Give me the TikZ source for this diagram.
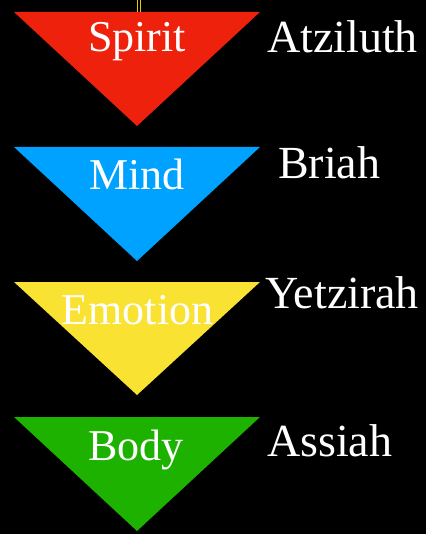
\documentclass[tikz,border=0pt]{standalone}
\usepackage{fontspec}
\setmainfont{Liberation Serif}
\definecolor{cred}{HTML}{EE220C}
\definecolor{cblue}{HTML}{00A2FF}
\definecolor{cyellow}{HTML}{FAE232}
\definecolor{cgreen}{HTML}{1DB100}
\definecolor{cline}{HTML}{E8D000}
\begin{document}
\begin{tikzpicture}[x=1pt,y=-1pt,
  lbl/.style={text=white,font=\fontsize{44}{50}\selectfont,inner sep=0pt,anchor=base},
  side/.style={text=white,font=\fontsize{46}{52}\selectfont,inner sep=0pt,anchor=base west}]
\fill[black] (0,0) rectangle (426,534);
\useasboundingbox (0,0) rectangle (426,534);
% yellow double line at top
\draw[cline,line width=1.2pt] (137.2,0) -- (137.2,12);
\draw[cline,line width=1.2pt] (140.2,0) -- (140.2,12);
% triangles
\fill[cred] (14,12) -- (260,12) -- (137,126) -- cycle;
\fill[cblue] (14,147) -- (260,147) -- (137,261) -- cycle;
\fill[cyellow] (14,282) -- (260,282) -- (137,395) -- cycle;
\fill[cgreen] (14,417) -- (260,417) -- (137,531) -- cycle;
% inner labels
\node[lbl] (spirit) at (137,52) {Spirit};
\node[lbl] (mind) at (137,190) {Mind};
\node[lbl] (emotion) at (137.5,324) {Emotion};
\node[lbl] (body) at (136,460) {Body};
% side labels
\node[side] (atz) at (267,53) {Atziluth};
\node[side] (bri) at (278,179) {Briah};
\node[side] (yet) at (265,308) {Yetzirah};
\node[side] (ass) at (267,456) {Assiah};
\end{tikzpicture}
\end{document}
